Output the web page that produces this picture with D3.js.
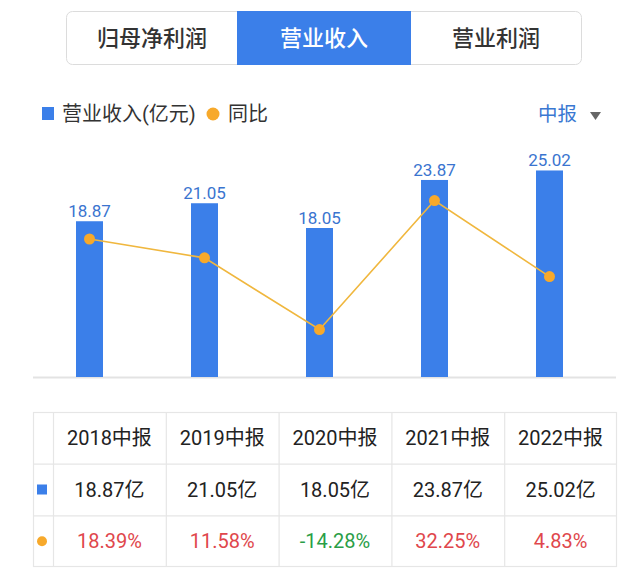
<!DOCTYPE html>
<html>
<head>
<meta charset="utf-8">
<script src="https://cdn.jsdelivr.net/npm/d3@7"></script>
<style>
  body { margin: 0; background: #fff; }
  svg { display: block; font-family: Roboto, "Noto Sans CJK SC", sans-serif; }
</style>
</head>
<body>
<div id="chart-area"></div>
<script>
// 营业收入 中报 bar + 同比 line, with table underneath
const tabs = ["归母净利润", "营业收入", "营业利润"]
const activeTab = 1
const periods = ["2018中报", "2019中报", "2020中报", "2021中报", "2022中报"]
const revenue = [18.87, 21.05, 18.05, 23.87, 25.02]
const yoy = [18.39, 11.58, -14.28, 32.25, 4.83]

const W = 640, H = 586
const BLUE = "#3b7fe9", ORANGE = "#f7a92b", LINE = "#f0b73e"

const svg = d3.select("#chart-area").append("svg")
    .attr("width", W).attr("height", H)

// tabs
const tabX = d3.scaleBand().domain(tabs).range([66, 582])
svg.append("rect")
    .attr("x", 66.5).attr("y", 11.5).attr("width", 515).attr("height", 53)
    .attr("rx", 6).attr("fill", "#fff").attr("stroke", "#dcdcdc")
svg.append("rect")
    .attr("x", tabX(tabs[activeTab]) - 1).attr("y", 11)
    .attr("width", tabX.bandwidth() + 2).attr("height", 54)
    .attr("fill", BLUE)
svg.selectAll(".tab").data(tabs).enter().append("text")
    .attr("x", d => tabX(d) + tabX.bandwidth() / 2)
    .attr("y", 46)
    .attr("text-anchor", "middle")
    .attr("font-size", 22)
    .attr("font-weight", 500)
    .attr("fill", (d, i) => i === activeTab ? "#fff" : "#333")
    .text(d => d)

// legend
svg.append("rect").attr("x", 42).attr("y", 107).attr("width", 12).attr("height", 13).attr("fill", BLUE)
svg.append("text").attr("x", 62).attr("y", 121).attr("font-size", 20).attr("fill", "#333").text("营业收入(亿元)")
svg.append("circle").attr("cx", 213).attr("cy", 114).attr("r", 6.5).attr("fill", ORANGE)
svg.append("text").attr("x", 228).attr("y", 121).attr("font-size", 20).attr("fill", "#333").text("同比")
svg.append("text").attr("x", 538).attr("y", 121).attr("font-size", 19.5).attr("fill", "#3a78d2").text("中报")
svg.append("path").attr("d", "M590,112 L601,112 L595.5,120 Z").attr("fill", "#666")

// chart
const x = d3.scaleBand().domain(periods).range([33, 608])
const y = d3.scaleLinear().domain([0, 27.5]).range([377, 150])
const y2 = d3.scaleLinear().domain([-31.4, 50.5]).range([377, 150])
const BW = 27
const cx = d => x(d) + x.bandwidth() / 2 - 1

svg.append("line").attr("x1", 33).attr("x2", 616).attr("y1", 377.5).attr("y2", 377.5)
    .attr("stroke", "#e3e3e3").attr("stroke-width", 2)

svg.selectAll(".bar").data(periods).enter().append("rect")
    .attr("x", d => cx(d) - BW / 2)
    .attr("y", (d, i) => y(revenue[i]))
    .attr("width", BW)
    .attr("height", (d, i) => y(0) - y(revenue[i]))
    .attr("fill", BLUE)

svg.selectAll(".val").data(periods).enter().append("text")
    .attr("x", d => cx(d))
    .attr("y", (d, i) => y(revenue[i]) - 4)
    .attr("text-anchor", "middle")
    .attr("font-size", 17)
    .attr("fill", "#3a74cf")
    .text((d, i) => revenue[i].toFixed(2))

svg.append("path")
    .datum(periods)
    .attr("fill", "none")
    .attr("stroke", LINE)
    .attr("stroke-width", 1.6)
    .attr("d", d3.line().x(d => cx(d)).y((d, i) => y2(yoy[i])))

svg.selectAll(".dot").data(periods).enter().append("circle")
    .attr("cx", d => cx(d))
    .attr("cy", (d, i) => y2(yoy[i]))
    .attr("r", 5.5)
    .attr("fill", ORANGE)

// table
const T = { LEFT: 33, FIRST: 53, RIGHT: 617, TOP: 412, BOTTOM: 567 }
const tx = d3.scaleBand().domain(periods).range([T.FIRST, T.RIGHT])
const rows = ["head", "rev", "yoy"]
const ty = d3.scaleBand().domain(rows).range([T.TOP, T.BOTTOM])
const grid = svg.append("g").attr("stroke", "#e6e6e6").attr("stroke-width", 1.2)
grid.append("rect").attr("x", T.LEFT + 0.5).attr("y", T.TOP + 0.5)
    .attr("width", T.RIGHT - T.LEFT - 1).attr("height", T.BOTTOM - T.TOP - 1).attr("fill", "none")
rows.slice(1).forEach(r => grid.append("line")
    .attr("x1", T.LEFT).attr("x2", T.RIGHT).attr("y1", ty(r) + 0.5).attr("y2", ty(r) + 0.5))
;[T.FIRST].concat(periods.slice(1).map(p => tx(p))).forEach(v => grid.append("line")
    .attr("x1", v + 0.5).attr("x2", v + 0.5).attr("y1", T.TOP).attr("y2", T.BOTTOM))

const rowY = r => ty(r) + ty.bandwidth() / 2 + 7
const colX = p => tx(p) + tx.bandwidth() / 2

svg.selectAll(".th").data(periods).enter().append("text")
    .attr("x", colX).attr("y", rowY("head"))
    .attr("text-anchor", "middle").attr("font-size", 20).attr("fill", "#222")
    .text(d => d)
svg.selectAll(".tr").data(periods).enter().append("text")
    .attr("x", colX).attr("y", rowY("rev"))
    .attr("text-anchor", "middle").attr("font-size", 20).attr("fill", "#222")
    .text((d, i) => revenue[i].toFixed(2) + "亿")
svg.selectAll(".ty").data(periods).enter().append("text")
    .attr("x", colX).attr("y", rowY("yoy"))
    .attr("text-anchor", "middle").attr("font-size", 20)
    .attr("fill", (d, i) => yoy[i] < 0 ? "#2a9e47" : "#e0474c")
    .text((d, i) => yoy[i].toFixed(2) + "%")

svg.append("rect").attr("x", 37).attr("y", ty("rev") + ty.bandwidth() / 2 - 5)
    .attr("width", 10).attr("height", 10).attr("fill", BLUE)
svg.append("circle").attr("cx", 42).attr("cy", ty("yoy") + ty.bandwidth() / 2)
    .attr("r", 5).attr("fill", ORANGE)
</script>
</body>
</html>
